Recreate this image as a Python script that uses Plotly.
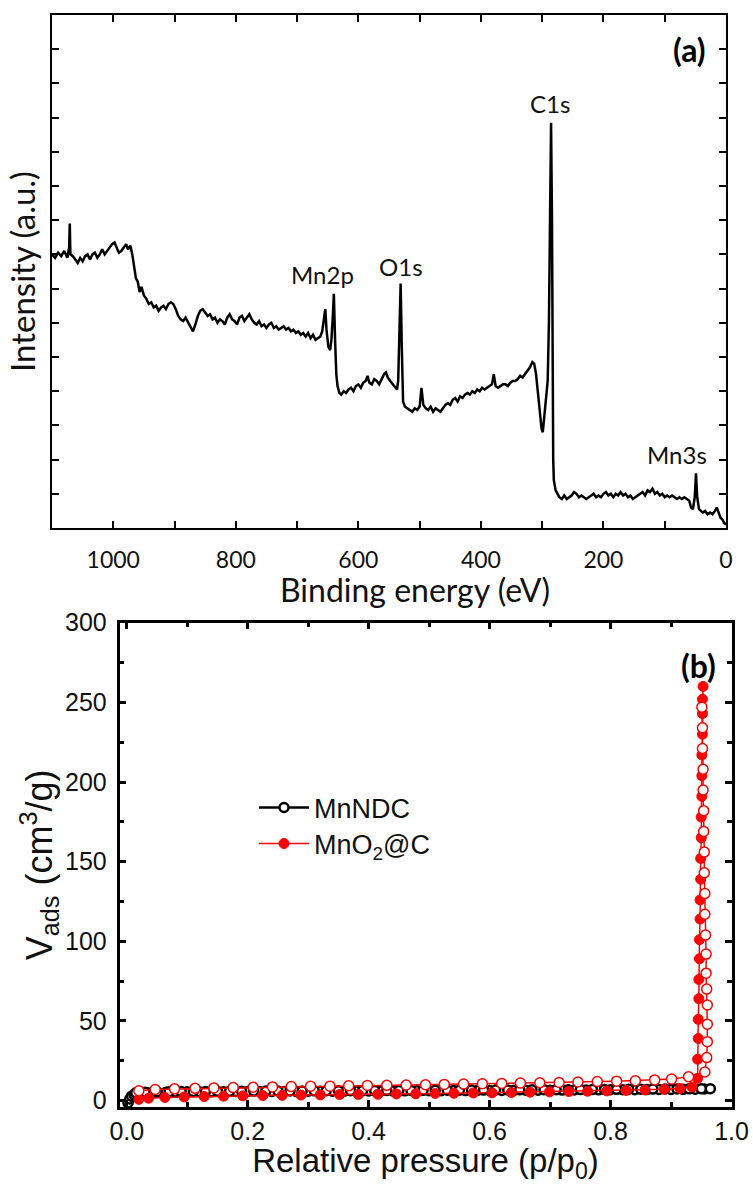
import plotly.graph_objects as go

# ---------------- (a) XPS survey spectrum ----------------
binding_energy = [
    1100, 1095, 1090, 1085, 1080, 1075, 1072, 1071, 1070, 1066, 1062, 1058, 1054, 1050,
    1046, 1042, 1038, 1034, 1030, 1026, 1022, 1018, 1014, 1010, 1006, 1002, 998, 995,
    991, 987, 983, 979, 976, 972, 969, 966, 963, 960, 957, 954, 950, 946, 942, 938,
    934, 930, 926, 922, 918, 914, 910, 906, 902, 898, 894, 890, 886, 882, 878, 874,
    870, 866, 862, 858, 854, 850, 846, 842, 838, 834, 830, 826, 822, 818, 814, 810,
    806, 802, 798, 794, 790, 786, 782, 778, 774, 770, 766, 762, 758, 754, 750, 746,
    742, 738, 734, 730, 726, 722, 718, 714, 710, 706, 702, 698, 694, 690, 686, 682,
    678, 674, 670, 666, 662, 659, 656, 654, 652, 649, 646, 644, 642, 640, 638, 636,
    634, 631, 628, 624, 620, 616, 612, 608, 604, 600, 596, 592, 588, 585, 582, 578,
    574, 570, 566, 562, 558, 555, 552, 548, 544, 540, 537, 535, 533, 531, 529, 527,
    524, 520, 516, 512, 508, 504, 500, 497, 494, 490, 486, 482, 478, 474, 470, 466,
    462, 458, 454, 450, 446, 442, 438, 434, 430, 426, 422, 418, 414, 410, 406, 402,
    398, 394, 390, 386, 382, 379, 376, 372, 368, 364, 360, 356, 352, 348, 344, 340,
    336, 332, 328, 324, 320, 316, 313, 310, 307, 304, 301, 299, 297, 294, 291, 289,
    287, 285.5, 284, 283, 282, 281, 278, 275, 272, 268, 264, 260, 256, 252, 248, 244,
    240, 236, 232, 228, 224, 220, 216, 212, 208, 204, 200, 196, 192, 188, 184, 180,
    176, 172, 168, 164, 160, 156, 152, 148, 144, 140, 136, 132, 128, 124, 120, 116,
    112, 108, 104, 100, 96, 92, 88, 84, 80, 76, 72, 68, 64, 60, 57, 54,
    51, 49, 47, 44, 41, 38, 34, 30, 26, 22, 18, 15, 12, 9, 6, 3, 0,
]
intensity = [
    8.0, 7.9, 8.05, 7.95, 8.1, 7.9, 8.2, 8.9, 8.0, 7.95, 7.85, 7.75, 7.9, 7.8,
    7.95, 8.0, 7.85, 8.0, 8.05, 7.9, 8.0, 8.15, 8.0, 8.1, 8.2, 8.3, 8.35, 8.2,
    8.05, 8.1, 8.2, 8.3, 8.15, 8.25, 8.0, 7.6, 7.3, 7.2, 6.9, 7.05, 6.8, 6.7, 6.55, 6.6,
    6.45, 6.5, 6.35, 6.45, 6.5, 6.4, 6.55, 6.6, 6.55, 6.4, 6.2, 6.1, 6.05, 6.15, 6.0, 5.9,
    5.75, 5.95, 6.2, 6.35, 6.4, 6.3, 6.2, 6.25, 6.1, 6.15, 6.0, 6.1, 6.05, 5.95, 6.15, 6.25,
    6.1, 6.05, 5.95, 6.15, 6.2, 6.05, 6.15, 6.25, 6.1, 6.0, 5.95, 6.05, 5.9, 5.95, 5.85, 5.95,
    6.0, 5.85, 5.9, 5.8, 5.85, 5.9, 5.8, 5.85, 5.75, 5.8, 5.7, 5.75, 5.65, 5.7, 5.6, 5.7,
    5.55, 5.65, 5.5, 5.55, 5.6, 5.75, 6.1, 6.4, 5.8, 5.3, 5.2, 5.5, 6.1, 6.85, 5.5, 4.5,
    4.15, 3.95, 3.9, 4.0, 3.95, 4.05, 4.1, 4.0, 4.15, 4.2, 4.1, 4.25, 4.3, 4.45, 4.25, 4.2,
    4.35, 4.3, 4.2, 4.35, 4.5, 4.55, 4.4, 4.3, 4.2, 4.1, 4.05, 4.3, 5.8, 7.15, 5.2, 3.7,
    3.55, 3.5, 3.45, 3.4, 3.5, 3.45, 3.55, 4.1, 3.6, 3.5, 3.45, 3.55, 3.4, 3.5, 3.45, 3.4,
    3.5, 3.6, 3.65, 3.6, 3.75, 3.8, 3.7, 3.85, 3.8, 3.9, 3.95, 3.9, 4.0, 3.95, 4.05, 4.0,
    4.1, 4.05, 4.1, 4.15, 4.2, 4.5, 4.15, 4.1, 4.15, 4.2, 4.2, 4.15, 4.25, 4.3, 4.3, 4.35,
    4.45, 4.4, 4.5, 4.6, 4.7, 4.85, 4.8, 4.5, 4.0, 3.4, 2.9, 2.8, 3.2, 3.9, 4.3, 6.0,
    9.4, 11.85, 9.0, 4.5, 2.0, 1.4, 1.1, 1.0, 0.9, 0.85, 0.95, 0.85, 0.9, 0.95, 1.05, 1.0,
    0.9, 0.95, 0.9, 0.85, 0.9, 0.95, 1.0, 0.9, 0.95, 0.9, 1.0, 1.05, 0.95, 1.0, 0.9, 1.0,
    0.95, 1.05, 0.95, 1.0, 0.9, 0.95, 0.85, 0.9, 0.95, 1.0, 1.05, 0.95, 1.1, 1.05, 1.15, 1.0,
    1.05, 0.95, 1.0, 0.9, 0.95, 0.9, 0.95, 0.9, 0.85, 0.9, 0.85, 0.9, 0.85, 0.8, 0.6, 0.55,
    0.9, 1.6, 0.9, 0.55, 0.5, 0.45, 0.5, 0.4, 0.45, 0.4, 0.5, 0.6, 0.45, 0.3, 0.25, 0.15, 0.1,
]

peak_labels = ["Mn2p", "O1s", "C1s", "Mn3s"]
peak_label_x = [659, 531, 288, 80]
peak_label_y = [7.4, 7.65, 12.4, 2.15]

# ---------------- (b) N2 sorption isotherms ----------------
mnndc_p = [
    0.002, 0.005, 0.008, 0.012, 0.018, 0.025, 0.035, 0.05, 0.065, 0.08, 0.10, 0.12, 0.14,
    0.16, 0.18, 0.20, 0.22, 0.24, 0.26, 0.28, 0.30, 0.32, 0.34, 0.36, 0.38, 0.40, 0.42,
    0.44, 0.46, 0.48, 0.50, 0.52, 0.54, 0.56, 0.58, 0.60, 0.62, 0.64, 0.66, 0.68, 0.70,
    0.72, 0.74, 0.76, 0.78, 0.80, 0.82, 0.84, 0.86, 0.88, 0.90, 0.92, 0.94, 0.955, 0.965,
    0.95, 0.93, 0.91, 0.89, 0.87, 0.85, 0.83, 0.81, 0.79, 0.77, 0.75, 0.73, 0.71, 0.69,
    0.67, 0.65, 0.63, 0.61, 0.59, 0.57, 0.55, 0.53, 0.51, 0.49, 0.47, 0.45, 0.43, 0.41,
    0.39, 0.37, 0.35, 0.33, 0.31, 0.29, 0.27, 0.25, 0.23, 0.21, 0.19, 0.17, 0.15, 0.13,
    0.11, 0.09, 0.07, 0.05, 0.03, 0.015,
]
mnndc_v = [
    -1.5, 1.0, 2.8, 3.8, 4.4, 4.8, 5.0, 5.2, 5.3, 5.4, 5.5, 5.55, 5.6,
    5.65, 5.7, 5.7, 5.75, 5.8, 5.8, 5.85, 5.9, 5.9, 5.95, 6.0, 6.0, 6.05, 6.1,
    6.1, 6.15, 6.2, 6.2, 6.25, 6.3, 6.3, 6.35, 6.4, 6.4, 6.45, 6.5, 6.5, 6.55,
    6.6, 6.65, 6.7, 6.75, 6.8, 6.85, 6.9, 6.95, 7.0, 7.05, 7.1, 7.2, 7.3, 7.5,
    7.5, 7.4, 7.35, 7.3, 7.25, 7.2, 7.15, 7.1, 7.05, 7.0, 6.95, 6.9, 6.85, 6.8,
    6.8, 6.75, 6.7, 6.65, 6.6, 6.6, 6.55, 6.5, 6.5, 6.45, 6.4, 6.4, 6.35, 6.3,
    6.3, 6.25, 6.2, 6.2, 6.15, 6.1, 6.1, 6.05, 6.0, 6.0, 5.95, 5.9, 5.85, 5.8,
    5.75, 5.7, 5.6, 5.5, 5.3, 4.9,
]

mno2c_ads_p = [
    0.020, 0.036, 0.063, 0.095, 0.128, 0.160, 0.192, 0.225, 0.257, 0.288, 0.320, 0.352,
    0.383, 0.415, 0.446, 0.478, 0.510, 0.541, 0.573, 0.604, 0.636, 0.667, 0.699, 0.731,
    0.762, 0.794, 0.826, 0.857, 0.889, 0.915, 0.935,
    0.944, 0.944, 0.945, 0.945, 0.946, 0.946, 0.947, 0.947, 0.948, 0.948, 0.949, 0.949,
    0.950, 0.950, 0.951, 0.951, 0.951, 0.952, 0.952, 0.952, 0.953,
]
mno2c_ads_v = [
    0.8, 1.5, 2.0, 2.3, 2.6, 2.8, 3.0, 3.2, 3.3, 3.5, 3.6, 3.8,
    3.9, 4.0, 4.2, 4.3, 4.5, 4.6, 4.8, 4.9, 5.1, 5.3, 5.5, 5.7,
    5.9, 6.1, 6.4, 6.7, 7.1, 7.6, 8.5,
    14, 26, 39, 51, 64, 76, 89, 101, 114, 126, 139, 152,
    165, 178, 191, 204, 217, 230, 243, 252, 260,
]

mno2c_des_p = [
    0.951, 0.952, 0.952, 0.953, 0.953, 0.954, 0.954, 0.955, 0.955, 0.956, 0.956, 0.957,
    0.958, 0.958, 0.959, 0.960, 0.960, 0.960, 0.959, 0.956,
    0.929, 0.901, 0.873, 0.841, 0.810, 0.778, 0.746, 0.715, 0.683, 0.651, 0.620, 0.588,
    0.557, 0.525, 0.494, 0.462, 0.430, 0.398, 0.367, 0.336, 0.304, 0.272, 0.241, 0.209,
    0.176, 0.144, 0.113, 0.079, 0.047, 0.020,
]
mno2c_des_v = [
    247, 234, 221, 208, 195, 182, 169, 156, 143, 130, 117, 104,
    92, 80, 70, 60, 48, 37, 27, 18,
    15.0, 13.5, 13.0, 12.5, 12.2, 12.0, 11.7, 11.4, 11.2, 11.0, 10.8, 10.6,
    10.4, 10.2, 10.0, 9.8, 9.6, 9.5, 9.3, 9.1, 9.0, 8.8, 8.6, 8.4,
    8.2, 8.0, 7.7, 7.4, 7.0, 6.2,
]

RED = "#ff0000"
INK = "#111111"
CAL = "Lato, 'Open Sans', sans-serif"
ARIAL = "'Liberation Sans', Arial, sans-serif"
W, H = 753, 1184

fig = go.Figure()

fig.add_trace(go.Scatter(
    x=binding_energy, y=intensity, mode="lines",
    line=dict(color="black", width=2.5), showlegend=False,
    xaxis="x", yaxis="y",
))

fig.add_trace(go.Scatter(
    x=mnndc_p, y=mnndc_v, mode="lines+markers", name="MnNDC",
    line=dict(color="black", width=2.5),
    marker=dict(symbol="circle", size=9, color="white",
                line=dict(color="black", width=2.5)),
    xaxis="x2", yaxis="y2", legend="legend",
))
fig.add_trace(go.Scatter(
    x=mno2c_ads_p, y=mno2c_ads_v, mode="lines+markers", name="MnO<sub>2</sub>@C",
    line=dict(color=RED, width=1.5),
    marker=dict(symbol="circle", size=10, color=RED,
                line=dict(color=RED, width=1)),
    xaxis="x2", yaxis="y2", legend="legend2",
))
fig.add_trace(go.Scatter(
    x=mno2c_des_p, y=mno2c_des_v, mode="lines+markers", showlegend=False,
    line=dict(color=RED, width=1.5),
    marker=dict(symbol="circle", size=10, color="white",
                line=dict(color=RED, width=1.5)),
    xaxis="x2", yaxis="y2",
))

axis_common = dict(
    showline=True, linecolor="black", mirror="ticks", ticks="inside",
    tickcolor="black", showgrid=False, zeroline=False, automargin=False,
)

annotations = []
for txt, xv, yv in zip(peak_labels, peak_label_x, peak_label_y):
    annotations.append(dict(
        x=xv, y=yv, xref="x", yref="y", text=txt, showarrow=False,
        font=dict(family=CAL, size=24, color=INK),
    ))
annotations.append(dict(
    x=708 / W, y=1 - 50 / H, xref="paper", yref="paper",
    xanchor="right", yanchor="middle",
    text="<b>(a)</b>", showarrow=False,
    font=dict(family=CAL, size=32, color="black"),
))
annotations.append(dict(
    x=718 / W, y=1 - 665 / H, xref="paper", yref="paper",
    xanchor="right", yanchor="middle",
    text="<b>(b)</b>", showarrow=False,
    font=dict(family=CAL, size=32, color="black"),
))
# x-axis title of panel (a), set slightly right of the axis centre
annotations.append(dict(
    x=415 / W, y=1 - 590 / H, xref="paper", yref="paper",
    xanchor="center", yanchor="middle",
    text="Binding energy (eV)", showarrow=False,
    font=dict(family=CAL, size=32, color=INK),
))

legend_common = dict(
    xanchor="left", yanchor="middle", bgcolor="rgba(0,0,0,0)", itemwidth=50,
    font=dict(family=ARIAL, size=27, color=INK),
)

fig.update_layout(
    width=W, height=H, margin=dict(l=0, r=0, t=0, b=0, autoexpand=False),
    paper_bgcolor="white", plot_bgcolor="white",
    xaxis=dict(
        **axis_common, domain=[52 / W, 726 / W], anchor="y",
        range=[1100, 0], tick0=0, dtick=200, ticklen=7, tickwidth=2, linewidth=2,
        minor=dict(dtick=100, ticklen=7, tickwidth=2, ticks="inside", tickcolor="black"),
        tickfont=dict(family=CAL, size=23, color=INK),
        ticklabelstandoff=10,
    ),
    yaxis=dict(
        **axis_common, domain=[1 - 528 / H, 1 - 15 / H], anchor="x",
        range=[0, 15], dtick=1, ticklen=7, tickwidth=2, linewidth=2,
        showticklabels=False,
        title=dict(text="Intensity (a.u.)", standoff=4,
                   font=dict(family=CAL, size=33, color=INK)),
    ),
    xaxis2=dict(
        **axis_common, domain=[119.5 / W, 731.5 / W], anchor="y2",
        range=[-0.012, 1.0], tick0=0, dtick=0.2, tickformat=".1f",
        ticklen=7, tickwidth=2.5, linewidth=2.5,
        minor=dict(dtick=0.1, ticklen=5, tickwidth=2.5, ticks="inside", tickcolor="black"),
        tickfont=dict(family=ARIAL, size=25, color=INK),
        ticklabelstandoff=0,
        title=dict(text="Relative pressure (p/p<sub>0</sub>)", standoff=4,
                   font=dict(family=ARIAL, size=33, color=INK)),
    ),
    yaxis2=dict(
        **axis_common, domain=[1 - 1107 / H, 1 - 622.7 / H], anchor="x2",
        range=[-4, 300], dtick=50, ticklen=7, tickwidth=2.5, linewidth=2.5,
        minor=dict(dtick=25, ticklen=5, tickwidth=2.5, ticks="inside", tickcolor="black"),
        tickfont=dict(family=ARIAL, size=25, color=INK),
        ticklabelstandoff=5,
        title=dict(text="V<sub>ads</sub> (cm<sup>3</sup>/g)", standoff=2,
                   font=dict(family=ARIAL, size=36, color=INK)),
    ),
    legend=dict(**legend_common, x=254 / W, y=1 - 808 / H),
    legend2=dict(**legend_common, x=254 / W, y=1 - 844 / H),
    annotations=annotations,
)

fig.write_html("out.html")
